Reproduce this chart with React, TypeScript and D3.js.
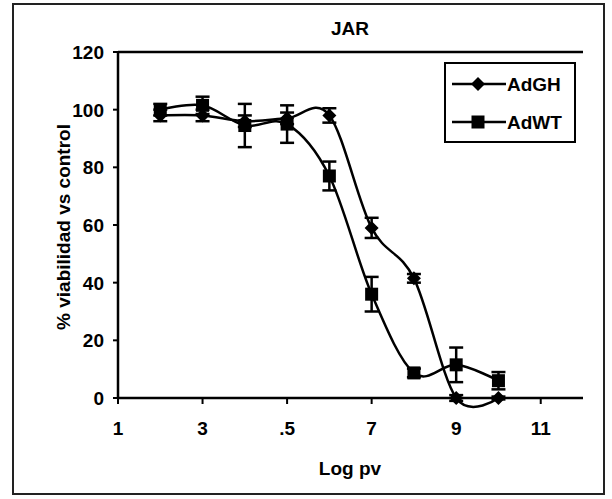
import React from 'react';
import * as d3 from 'd3';

// log pv values
const xValues = [2, 3, 4, 5, 6, 7, 8, 9, 10];
const adGH = [98, 98, 96, 97, 98, 59, 41.5, 0, 0];
const adGHErr = [2, 2, 2, 2, 2.5, 3.5, 1.5, 1, 0.5];
const adWT = [100, 101.5, 94.5, 95, 77, 36, 8.7, 11.5, 6];
const adWTErr = [2, 3, 7.5, 6.5, 5, 6, 1.5, 6, 3];

const xTicks = [1, 3, 5, 7, 9, 11];
const xTickLabels = ['1', '3', '.5', '7', '9', '11'];
const yTicks = [0, 20, 40, 60, 80, 100, 120];

const width = 612;
const height = 499;
const margin = { top: 52, right: 29, bottom: 101, left: 118 };
const font = '"Liberation Sans", Arial, sans-serif';
const fs = 19;

export default function App() {
  const x = d3.scaleLinear()
    .domain([1, 12])
    .range([margin.left, width - margin.right]);
  const y = d3.scaleLinear()
    .domain([0, 120])
    .range([height - margin.bottom, margin.top]);

  const line = d3.line<number>()
    .x((d, i) => x(xValues[i]))
    .y(d => y(d))
    .curve(d3.curveCardinal.tension(0));

  const errorBars = (vals: number[], errs: number[]) =>
    vals.map((v, i) => {
      const cx = x(xValues[i]);
      const y1 = y(v + errs[i]);
      const y2 = y(v - errs[i]);
      return (
        <g key={i} stroke="#000" strokeWidth={2.5}>
          <line x1={cx} x2={cx} y1={y1} y2={y2} />
          <line x1={cx - 7} x2={cx + 7} y1={y1} y2={y1} />
          <line x1={cx - 7} x2={cx + 7} y1={y2} y2={y2} />
        </g>
      );
    });

  const diamond = (cx: number, cy: number, s = 7) =>
    `M${cx},${cy - s}L${cx + s},${cy}L${cx},${cy + s}L${cx - s},${cy}Z`;

  const x0 = margin.left;
  const yBase = y(0);

  return (
    <svg width={width} height={height} style={{ position: 'absolute', left: 0, top: 0 }}>
      <rect x={0} y={0} width={width} height={height} fill="#fff" />
      <rect x={13} y={4} width={591} height={490} fill="none" stroke="#222" strokeWidth={2} />

      <text x={350} y={35} textAnchor="middle" fontFamily={font} fontWeight="bold" fontSize={fs}>JAR</text>

      {/* plot top border */}
      <line x1={x0} x2={width - margin.right} y1={y(120)} y2={y(120)} stroke="#000" strokeWidth={2.5} />

      {/* y axis */}
      <line x1={x0} x2={x0} y1={y(120)} y2={yBase} stroke="#000" strokeWidth={2.5} />
      {yTicks.map(t => (
        <g key={t}>
          <line x1={x0 - 5} x2={x0} y1={y(t)} y2={y(t)} stroke="#000" strokeWidth={2} />
          <text x={x0 - 14} y={y(t)} dy="0.36em" textAnchor="end" fontFamily={font} fontWeight="bold" fontSize={fs}>{t}</text>
        </g>
      ))}

      {/* x axis */}
      <line x1={x0} x2={width - margin.right} y1={yBase} y2={yBase} stroke="#000" strokeWidth={2.5} />
      {xTicks.map((t, i) => (
        <g key={t}>
          <line x1={x(t)} x2={x(t)} y1={yBase} y2={yBase + 6} stroke="#000" strokeWidth={2} />
          <text x={x(t)} y={yBase + 37} textAnchor="middle" fontFamily={font} fontWeight="bold" fontSize={fs}>{xTickLabels[i]}</text>
        </g>
      ))}

      <text x={350} y={475} textAnchor="middle" fontFamily={font} fontWeight="bold" fontSize={fs}>Log pv</text>
      <text transform={`translate(70,${(y(120) + yBase) / 2 + 2}) rotate(-90)`} textAnchor="middle" fontFamily={font} fontWeight="bold" fontSize={fs}>% viabilidad vs control</text>

      {/* series */}
      <path d={line(adGH) || ''} fill="none" stroke="#000" strokeWidth={2.5} />
      <path d={line(adWT) || ''} fill="none" stroke="#000" strokeWidth={2.5} />
      {errorBars(adGH, adGHErr)}
      {errorBars(adWT, adWTErr)}
      {adGH.map((v, i) => (
        <path key={i} d={diamond(x(xValues[i]), y(v))} fill="#000" />
      ))}
      {adWT.map((v, i) => (
        <rect key={i} x={x(xValues[i]) - 6.5} y={y(v) - 6.5} width={13} height={13} fill="#000" />
      ))}

      {/* legend */}
      <rect x={445} y={63} width={130} height={79} fill="#fff" stroke="#000" strokeWidth={2} />
      <line x1={452} x2={506} y1={84} y2={84} stroke="#000" strokeWidth={2.5} />
      <path d={diamond(478, 84, 7)} fill="#000" />
      <text x={507} y={84} dy="0.36em" fontFamily={font} fontWeight="bold" fontSize={fs}>AdGH</text>
      <line x1={452} x2={506} y1={122} y2={122} stroke="#000" strokeWidth={2.5} />
      <rect x={471.5} y={115.5} width={13} height={13} fill="#000" />
      <text x={507} y={122} dy="0.36em" fontFamily={font} fontWeight="bold" fontSize={fs}>AdWT</text>
    </svg>
  );
}
